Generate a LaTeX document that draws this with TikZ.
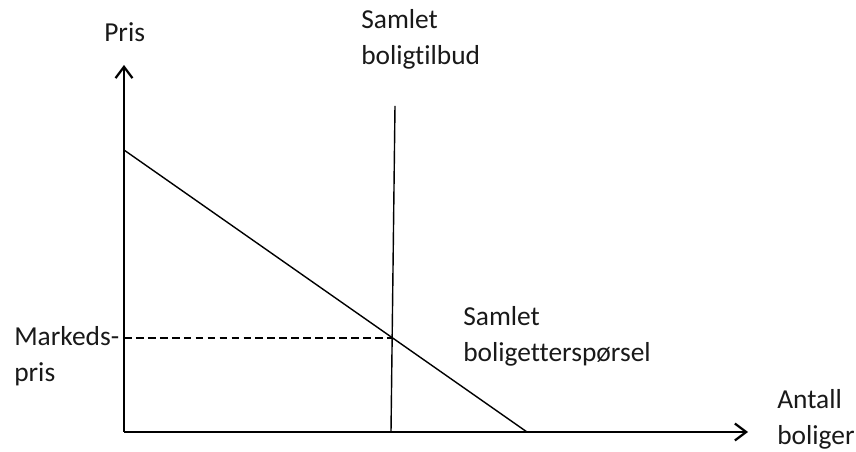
\documentclass[tikz,border=0pt]{standalone}
\usepackage{fontspec}
\setmainfont{Carlito}[Ligatures=NoCommon]
\usetikzlibrary{arrows.meta}
\tikzset{
  axis/.style={line width=1.8pt,-{Straight Barb[length=8pt,width=12pt,line width=1.6pt]}},
  curve/.style={line width=1pt},
  lbl/.style={anchor=base west,inner sep=0pt,align=left,text=black!90,
    font=\fontsize{19.5}{26.3}\selectfont}
}
\begin{document}
\begin{tikzpicture}[x=0.025cm,y=0.025cm]
\useasboundingbox (0,0) rectangle (856,452);
% axes
\coordinate (o) at (124,20);
\coordinate (ytop) at (124,387);
\coordinate (xend) at (748,20);
\draw[axis] (o) -- (ytop);
\draw[axis] (o) -- (xend);
% supply and demand
\coordinate (s0) at (391,20);
\coordinate (s1) at (395,346);
\coordinate (d0) at (124,302);
\coordinate (d1) at (527,20);
\coordinate (eq) at (392.5,114);
\coordinate (peq) at (124,114);
\draw[curve] (s0) -- (s1);
\draw[curve] (d0) -- (d1);
\draw[curve,dash pattern=on 5.5pt off 3pt] (peq) -- (eq);
% labels (base = last line)
\node[lbl] (pris) at (104,410) {Pris};
\node[lbl] (tilbud) at (361,387) {Samlet\\boligtilbud};
\node[lbl] (mpris) at (14,70) {Markeds-\\pris};
\node[lbl] (ettersp) at (463,90) {Samlet\\boligetterspørsel};
\node[lbl] (antall) at (777,7) {Antall\\boliger};
\end{tikzpicture}
\end{document}
